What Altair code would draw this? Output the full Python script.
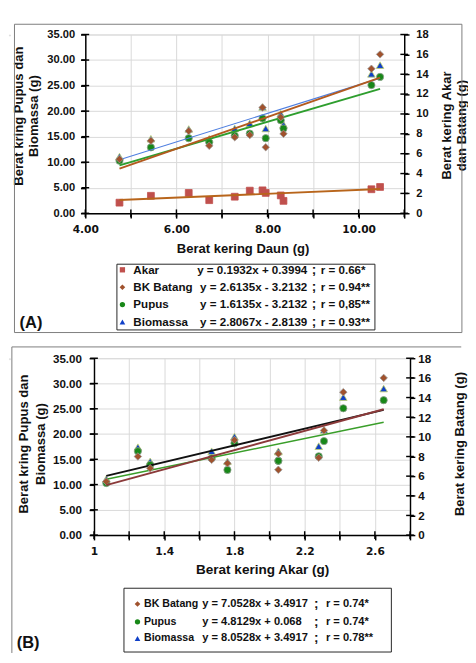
import altair as alt
import pandas as pd

# ---------------- data ----------------
daun = [4.75, 5.44, 6.27, 6.72, 7.28, 7.61, 7.89, 7.96, 8.29, 8.35, 10.28, 10.47]
akar = [1.07, 1.76, 2.05, 1.32, 1.67, 2.28, 2.31, 2.05, 1.80, 1.25, 2.42, 2.65]
batang = [5.45, 7.30, 8.28, 6.80, 7.66, 7.88, 10.65, 6.65, 9.67, 8.00, 14.55, 16.00]
pupus = [10.3, 12.9, 14.7, 13.9, 15.2, 15.6, 18.6, 14.7, 18.2, 16.6, 25.1, 26.7]
biomassa = [11.1, 14.6, 16.5, 14.6, 16.6, 17.6, 20.8, 16.6, 19.5, 17.4, 27.3, 29.0]

legend_a_names = ["Akar", "BK Batang", "Pupus", "Biomassa"]
legend_a_eqs = ["y = 0.1932x + 0.3994", "y = 2.6135x - 3.2132",
                "y = 1.6135x - 3.2132", "y = 2.8067x - 2.8139"]
legend_a_r = ["r = 0.66*", "r = 0.94**", "r = 0,85**", "r = 0.93**"]

legend_b_names = ["BK Batang", "Pupus", "Biomassa"]
legend_b_eqs = ["y = 7.0528x + 3.4917", "y = 4.8129x + 0.068", "y = 8.0528x + 3.4917"]
legend_b_r = ["r = 0.74*", "r = 0.74*", "r = 0.78**"]

x_ticks_a = [4, 5, 6, 7, 8, 9, 10, 11]
x_ticks_b = [1.0, 1.2, 1.4, 1.6, 1.8, 2.0, 2.2, 2.4, 2.6, 2.8]
y_left_ticks = [0, 5, 10, 15, 20, 25, 30, 35]
y_right_ticks = [0, 2, 4, 6, 8, 10, 12, 14, 16, 18]

# ---------------- styles ----------------
F = "Liberation Sans"
INK = "#111111"
PT = {
    "Biomassa": dict(shape="triangle-up", fill="#1040C8", stroke="#C4D46A", size=62),
    "Pupus": dict(shape="circle", fill="#188818", stroke="#8FA08F", size=56),
    "BK Batang": dict(shape="diamond", fill="#A0522D", stroke="#9A9A9A", size=60),
    "Akar": dict(shape="square", fill="#C0504D", stroke="#C0504D", size=50),
}
LEG = {
    "Biomassa": dict(shape="triangle-up", fill="#1040C8", size=34),
    "Pupus": dict(shape="circle", fill="#188818", size=30),
    "BK Batang": dict(shape="diamond", fill="#A0522D", size=34),
    "Akar": dict(shape="square", fill="#C0504D", size=30),
}
ONE = alt.Data(values=[{}])


def x_axis(values, expr, title, tx, ty, tsize):
    return alt.Axis(values=values, labelExpr=expr, title=title, titleX=tx, titleY=ty,
                    titleFont=F, titleFontSize=tsize, titleFontWeight="bold", titleColor=INK,
                    titleAlign="center", titleBaseline="middle", titleAngle=0,
                    labelFont="DejaVu Sans", labelFontSize=11, labelFontWeight="bold",
                    labelColor=INK, labelFlush=False, labelOverlap=False, labelPadding=6,
                    tickSize=5, tickColor="#000", tickWidth=1.5, domainColor="#000",
                    domainWidth=1.5, grid=True, gridColor="#D9D9D9", gridWidth=1)


def y_axis(values, fmt, title, tx, ty, lh, lsize, orient, grid, pad):
    return alt.Axis(values=values, format=fmt, title=title, titleX=tx, titleY=ty,
                    titleFont=F, titleFontSize=13.5, titleFontWeight="bold", titleColor=INK,
                    titleAlign="center", titleBaseline="middle", titleAngle=270,
                    titleLineHeight=lh, orient=orient,
                    labelFont=F, labelFontSize=lsize, labelFontWeight="bold", labelColor=INK,
                    labelOverlap=False, labelPadding=pad, tickSize=5, tickColor="#000",
                    tickWidth=1.5, domainColor="#000", domainWidth=1.5, grid=grid,
                    gridColor="#D9D9D9", gridWidth=1)


def series_layers(xs, ys, name, xenc, yscale, yaxis, line_color, line_width):
    df = pd.DataFrame({"x": xs, "value": ys})
    st = PT[name]
    base = alt.Chart(df)
    pts = base.mark_point(filled=True, shape=st["shape"], size=st["size"], fill=st["fill"],
                          stroke=st["stroke"], strokeWidth=0.8, opacity=1).encode(
        x=xenc, y=alt.Y("value:Q", scale=yscale, axis=yaxis))
    line = base.transform_regression("x", "value").mark_line(
        color=line_color, strokeWidth=line_width).encode(
        x=xenc, y=alt.Y("value:Q", scale=yscale, axis=yaxis))
    return pts, line


def cross_ticks_x(xt, xenc, ybase, yscale, yaxis):
    # tick marks that cross the x axis (Excel "cross" style)
    return alt.Chart(pd.DataFrame({"x": xt})).mark_tick(
        orient="vertical", size=8, thickness=1.5, color="#000", opacity=1).encode(
        x=xenc, y=alt.YDatum(ybase, scale=yscale, axis=yaxis))


def cross_ticks_y(yt, xbase, xscale, xaxis, yscale, yaxis):
    return alt.Chart(pd.DataFrame({"value": yt})).mark_tick(
        orient="horizontal", size=8, thickness=1.5, color="#000", opacity=1).encode(
        x=alt.XDatum(xbase, scale=xscale, axis=xaxis),
        y=alt.Y("value:Q", scale=yscale, axis=yaxis))


def legend_layers(names, eqs, rs, box, rows, mx, lx, ex, ealign, sx, rx, lsize, esize):
    out = [alt.Chart(ONE).mark_rect(fill="white", stroke="#222", strokeWidth=1).encode(
        x=alt.value(box[0]), x2=alt.value(box[1]), y=alt.value(box[2]), y2=alt.value(box[3]))]
    for i, nm in enumerate(names):
        st = LEG[nm]
        yy = alt.value(rows[i])
        out.append(alt.Chart(ONE).mark_point(filled=True, shape=st["shape"], size=st["size"],
                                             fill=st["fill"], opacity=1, strokeWidth=0).encode(
            x=alt.value(mx), y=yy))
        out.append(alt.Chart(ONE).mark_text(text=nm, font=F, fontSize=lsize, fontWeight="bold",
                                            color=INK, align="left", baseline="middle").encode(
            x=alt.value(lx), y=yy))
        out.append(alt.Chart(ONE).mark_text(text=eqs[i], font=F, fontSize=esize,
                                            fontWeight="bold", color=INK, align=ealign,
                                            baseline="middle").encode(
            x=alt.value(ex), y=yy))
        out.append(alt.Chart(ONE).mark_text(text=";", font=F, fontSize=14, fontWeight="bold",
                                            color=INK, align="center", baseline="middle").encode(
            x=alt.value(sx), y=yy))
        out.append(alt.Chart(ONE).mark_text(text=rs[i], font=F, fontSize=esize,
                                            fontWeight="bold", color=INK, align="left",
                                            baseline="middle").encode(
            x=alt.value(rx), y=yy))
    return out


# ---------------- panel A ----------------
WA, HA = 330, 185
xsa = alt.Scale(domain=[4, 11], nice=False, zero=False)
xaxa = x_axis(x_ticks_a, "datum.value % 2 == 0 ? format(datum.value, '.2f') : ''",
              "Berat kering Daun (g)", 162.7, 36.7, 13.5)
xea = alt.X("x:Q", scale=xsa, axis=xaxa)
ylsa = alt.Scale(domain=[0, 35], nice=False)
yrsa = alt.Scale(domain=[0, 18], nice=False)
ylaa = y_axis(y_left_ticks, ".2f", ["Berat kring Pupus dan", "Biomassa (g)"], -69, 84, 16,
              11.5, "left", True, 6)
yraa = y_axis(y_right_ticks, "d", ["Berat kering Akar", "dan Batang (g)"], 44, 93.7, 15,
              11.5, "right", False, 7)

bio_p, bio_l = series_layers(daun, biomassa, "Biomassa", xea, ylsa, ylaa, "#4F7FE0", 1.2)
pup_p, pup_l = series_layers(daun, pupus, "Pupus", xea, ylsa, ylaa, "#2E9E2E", 2)
bat_p, bat_l = series_layers(daun, batang, "BK Batang", xea, yrsa, yraa, "#B35A1F", 2)
ak_p, ak_l = series_layers(daun, akar, "Akar", xea, yrsa, yraa, "#B8651B", 2)

left_a = alt.layer(
    bio_p, pup_p, bio_l, pup_l,
    cross_ticks_x(x_ticks_a, xea, 0, ylsa, ylaa),
    cross_ticks_y(y_left_ticks, 4, xsa, xaxa, ylsa, ylaa),
)
right_a = alt.layer(
    bat_p, ak_p, bat_l, ak_l,
    cross_ticks_y(y_right_ticks, 11, xsa, xaxa, yrsa, yraa),
)

frame_a = alt.Chart(ONE).mark_rect(fill="transparent", stroke="#7A7A7A", strokeWidth=1).encode(
    x=alt.value(-73.3), x2=alt.value(389.7), y=alt.value(-10.6), y2=alt.value(308.4))
label_a = alt.Chart(ONE).mark_text(text="(A)", font=F, fontSize=17, fontWeight="bold",
                                   color=INK, align="left", baseline="middle").encode(
    x=alt.value(-68), y=alt.value(298.4))
leg_a = legend_layers(legend_a_names, legend_a_eqs, legend_a_r,
                      (32.7, 299.7, 237.7, 305.7), [243.5, 261.5, 279.5, 297.5],
                      38.4, 49.7, 229.7, "right", 236.7, 243.7, 12, 12)

panel_a = alt.layer(frame_a, left_a, right_a, *leg_a, label_a).resolve_scale(
    y="independent").properties(width=WA, height=HA)

# ---------------- panel B ----------------
WB, HB = 327, 183
xsb = alt.Scale(domain=[1, 2.8], nice=False, zero=False)
xaxb = x_axis(x_ticks_b,
              "(round(datum.value * 10) - 10) % 4 == 0 ? format(datum.value, '.1~f') : ''",
              "Berat kering Akar (g)", 174, 35.7, 14)
xeb = alt.X("x:Q", scale=xsb, axis=xaxb)
ylsb = alt.Scale(domain=[0, 35], nice=False)
yrsb = alt.Scale(domain=[0, 18], nice=False)
ylab = y_axis(y_left_ticks, ".2f", ["Berat kring Pupus dan", "Biomassa (g)"], -73, 88.3, 18,
              12, "left", True, 8)
yrab = y_axis(y_right_ticks, "d", "Berat kering Batang (g)", 51, 88.3, 15,
              12, "right", False, 3)

bio_pb, bio_lb = series_layers(akar, biomassa, "Biomassa", xeb, ylsb, ylab, "#111111", 2)
pup_pb, pup_lb = series_layers(akar, pupus, "Pupus", xeb, ylsb, ylab, "#3A9E2A", 1.5)
bat_pb, bat_lb = series_layers(akar, batang, "BK Batang", xeb, yrsb, yrab, "#8B3A3A", 2)

left_b = alt.layer(
    bio_pb, pup_pb, bio_lb, pup_lb,
    cross_ticks_x(x_ticks_b, xeb, 0, ylsb, ylab),
    cross_ticks_y(y_left_ticks, 1, xsb, xaxb, ylsb, ylab),
)
right_b = alt.layer(
    bat_pb, bat_lb,
    cross_ticks_y(y_right_ticks, 2.8, xsb, xaxb, yrsb, yrab),
)

frame_b_top = alt.Chart(ONE).mark_rule(color="#7A7A7A", strokeWidth=1).encode(
    x=alt.value(-85), x2=alt.value(380), y=alt.value(-11.7))
frame_b_left = alt.Chart(ONE).mark_rule(color="#7A7A7A", strokeWidth=1).encode(
    x=alt.value(-85), y=alt.value(-11.7), y2=alt.value(305))
label_b = alt.Chart(ONE).mark_text(text="(B)", font=F, fontSize=17, fontWeight="bold",
                                   color=INK, align="left", baseline="middle").encode(
    x=alt.value(-80), y=alt.value(295.3))
leg_b = legend_layers(legend_b_names, legend_b_eqs, legend_b_r,
                      (31, 307.7, 238, 304), [254.3, 272.8, 290],
                      45, 51.7, 112, "left", 230, 240, 11, 11.5)

panel_b = alt.layer(frame_b_top, frame_b_left, left_b, right_b, *leg_b, label_b).resolve_scale(
    y="independent").properties(width=WB, height=HB)


def spacer():
    return alt.Chart(ONE).mark_rule(opacity=0).encode(
        x=alt.value(0), y=alt.value(0), y2=alt.value(1)).properties(width=1, height=1)


chart = alt.vconcat(
    alt.hconcat(spacer(), panel_a, spacing=0),
    alt.hconcat(spacer(), panel_b, spacing=0),
    spacing=12,
).properties(
    padding={"left": 0, "top": 4, "right": 0, "bottom": 0}
).configure_view(stroke=None).configure(background="white")

chart.save("out.html", embed_options={"renderer": "svg", "actions": False})
